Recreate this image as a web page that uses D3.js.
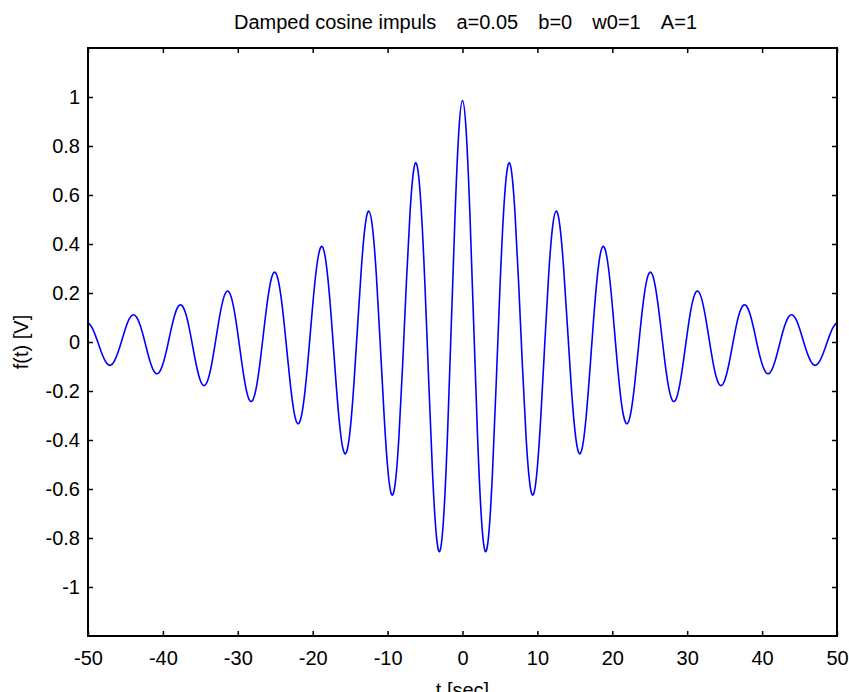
<!DOCTYPE html>
<html>
<head>
<meta charset="utf-8">
<script src="https://cdn.jsdelivr.net/npm/d3@7"></script>
<style>
  html, body { margin: 0; padding: 0; background: #fff; }
  svg { display: block; }
  text { font-family: "Liberation Sans", Arial, Helvetica, sans-serif; fill: #000; }
</style>
</head>
<body>
<svg id="chart" width="849" height="692"></svg>
<script>
// ---- data ----
const titleParts = ["Damped cosine impuls", "a=0.05", "b=0", "w0=1", "A=1"];
const xLabel = "t [sec]";
const yLabel = "f(t) [V]";
const xTicks = [-50, -40, -30, -20, -10, 0, 10, 20, 30, 40, 50];
const yTicks = [-1, -0.8, -0.6, -0.4, -0.2, 0, 0.2, 0.4, 0.6, 0.8, 1];
const yTickLabels = ["-1", "-0.8", "-0.6", "-0.4", "-0.2", "0", "0.2", "0.4", "0.6", "0.8", "1"];
const xDomain = [-50, 50];
const yDomain = [-1.2, 1.2];
// sample times: -50 .. 50, step 0.5
const tValues = d3.range(-50, 50.25, 0.5);
// f(t) values at those times
const fValues = [
  0.079,0.061,0.026,-0.017,-0.058,-0.087,-0.095,-0.079,-0.043,0.005,
  0.055,0.094,0.111,0.101,0.065,0.011,-0.049,-0.099,-0.127,-0.124,
  -0.090,-0.032,0.038,0.102,0.143,0.150,0.120,0.059,-0.021,-0.100,
  -0.157,-0.178,-0.155,-0.092,-0.003,0.092,0.168,0.206,0.194,0.133,
  0.034,-0.077,-0.175,-0.234,-0.237,-0.181,-0.076,0.054,0.176,0.261,
  0.284,0.237,0.128,-0.019,-0.169,-0.284,-0.333,-0.301,-0.192,-0.029,
  0.150,0.300,0.382,0.373,0.268,0.091,-0.118,-0.308,-0.430,-0.451,
  -0.359,-0.172,0.068,0.303,0.474,0.534,0.463,0.272,0.003,-0.281,
  -0.509,-0.620,-0.581,-0.394,-0.098,0.238,0.531,0.706,0.711,0.538,
  0.221,-0.168,-0.535,-0.786,-0.852,-0.707,-0.377,0.066,0.514,0.856,
  0.985,
  0.856,0.514,0.066,-0.377,-0.707,-0.852,-0.786,-0.535,-0.168,
  0.221,0.538,0.711,0.706,0.531,0.238,-0.098,-0.394,-0.581,-0.620,
  -0.509,-0.281,0.003,0.272,0.463,0.534,0.474,0.303,0.068,-0.172,
  -0.359,-0.451,-0.430,-0.308,-0.118,0.091,0.268,0.373,0.382,0.300,
  0.150,-0.029,-0.192,-0.301,-0.333,-0.284,-0.169,-0.019,0.128,0.237,
  0.284,0.261,0.176,0.054,-0.076,-0.181,-0.237,-0.234,-0.175,-0.077,
  0.034,0.133,0.194,0.206,0.168,0.092,-0.003,-0.092,-0.155,-0.178,
  -0.157,-0.100,-0.021,0.059,0.120,0.150,0.143,0.102,0.038,-0.032,
  -0.090,-0.124,-0.127,-0.099,-0.049,0.011,0.065,0.101,0.111,0.094,
  0.055,0.005,-0.043,-0.079,-0.095,-0.087,-0.058,-0.017,0.026,0.061,
  0.079
];

// ---- layout ----
const W = 849, H = 692;
const margin = { top: 48, right: 12, bottom: 56, left: 88 };
const iw = W - margin.left - margin.right;
const ih = H - margin.top - margin.bottom;
const fontSize = 20;

const svg = d3.select("#chart");
const g = svg.append("g").attr("transform", `translate(${margin.left},${margin.top})`);

const x = d3.scaleLinear().domain(xDomain).range([0, iw]);
const y = d3.scaleLinear().domain(yDomain).range([ih, 0]);

svg.append("defs").append("clipPath").attr("id", "clip")
  .append("rect").attr("width", iw).attr("height", ih);

// line
const data = tValues.map((t, i) => ({ t, v: fValues[i] }));
const line = d3.line().x(d => x(d.t)).y(d => y(d.v)).curve(d3.curveNatural);
g.append("path")
  .datum(data)
  .attr("clip-path", "url(#clip)")
  .attr("fill", "none")
  .attr("stroke", "#0000ff")
  .attr("stroke-width", 1.6)
  .attr("stroke-linejoin", "round")
  .attr("d", line);

// axes
function styleAxis(sel) {
  sel.select(".domain").remove();
  sel.selectAll(".tick line").attr("stroke", "#000").attr("stroke-width", 1.5);
  sel.selectAll(".tick text").attr("font-size", fontSize).attr("font-family", null).attr("fill", "#000");
}
const tickLen = 5;
g.append("g").attr("transform", `translate(0,${ih})`)
  .call(d3.axisBottom(x).tickValues(xTicks).tickSize(-tickLen).tickPadding(15).tickFormat(d => String(d)))
  .call(styleAxis);
g.append("g")
  .call(d3.axisTop(x).tickValues(xTicks).tickSize(-tickLen).tickFormat(""))
  .call(styleAxis);
g.append("g")
  .call(d3.axisLeft(y).tickValues(yTicks).tickSize(-tickLen).tickPadding(8).tickFormat((d, i) => yTickLabels[i]))
  .call(styleAxis);
g.append("g").attr("transform", `translate(${iw},0)`)
  .call(d3.axisRight(y).tickValues(yTicks).tickSize(-tickLen).tickFormat(""))
  .call(styleAxis);

// box
g.append("rect")
  .attr("width", iw).attr("height", ih)
  .attr("fill", "none").attr("stroke", "#000").attr("stroke-width", 2);

// title (wide double spaces between parameter groups, as in the reference)
const title = svg.append("text")
  .attr("x", margin.left + iw / 2 + 3).attr("y", 29)
  .attr("text-anchor", "middle")
  .attr("font-size", fontSize)
  .style("white-space", "pre");
titleParts.forEach((p, i) => {
  if (i > 0) {
    title.append("tspan").style("letter-spacing", "4.5px").text("  ");
  }
  title.append("tspan").text(p);
});

svg.append("text")
  .attr("x", margin.left + iw / 2).attr("y", 697)
  .attr("text-anchor", "middle")
  .attr("font-size", fontSize)
  .text(xLabel);

svg.append("text")
  .attr("transform", `translate(28,${margin.top + ih / 2}) rotate(-90)`)
  .attr("text-anchor", "middle")
  .attr("font-size", fontSize)
  .text(yLabel);
</script>
</body>
</html>
